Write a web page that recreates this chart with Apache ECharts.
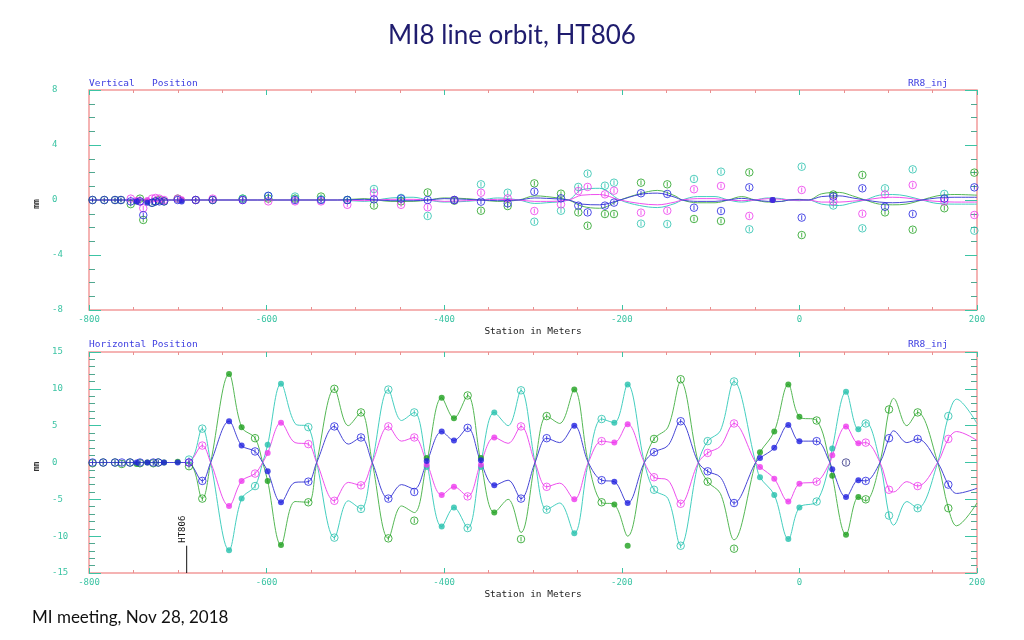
<!DOCTYPE html>
<html><head><meta charset="utf-8">
<script src="https://cdn.jsdelivr.net/npm/echarts@6/dist/echarts.min.js"></script>
<style>html,body{margin:0;padding:0;background:#fff}#c{width:1024px;height:640px}</style>
</head><body><div id="c"></div>
<script>
// ---------- DATA ----------
const xTicks = [-800, -600, -400, -200, 0, 200];
const markerName = 'HT806';
const markerPos = -690;
const markerTop = -11.3;

// Vertical panel: BPM stations and readings (mm)
const topX = [-796,-782.8,-770.7,-764,-753,-746.3,-742.6,-738.9,-734.3,-729,-725,-720.8,-715.5,-700.1,-695.6,-679.8,-660.7,-626.9,-598.1,-568,-538.7,-509.1,-479.1,-448.6,-418.6,-388.6,-358.6,-328.5,-298.5,-268.5,-249,-238.5,-219,-208.8,-178.4,-148.8,-118.7,-88.3,-56.4,-30.1,2.6,38.2,70.9,96.4,127.6,163.2,197];
const topGreen = [0,0,0,0,-0.3,-0.1,0.1,-1.45,-0.1,-0.2,-0.1,0,-0.1,0.1,0,0,0,0.1,0.1,0.1,0.25,0,-0.4,-0.1,0.55,-0.05,-0.78,-0.44,1.21,0.46,-0.9,-1.87,-1.02,-1.02,1.26,1.14,-1.38,-1.53,2.01,0,-2.55,0.4,1.82,-0.9,-2.16,-0.6,1.99];
const topBlue = [0,0,0,0,-0.1,-0.1,-0.1,-1.1,-0.2,-0.2,-0.1,-0.1,-0.1,0,-0.1,0,0,0,0.3,0,0,0,0.05,0.1,0,0,-0.12,-0.24,0.61,0.12,-0.41,-0.9,-0.41,-0.19,0.49,0.44,-0.56,-0.8,0.92,0,-1.28,0.25,0.85,-0.49,-1.02,0.1,0.92];
const topMagenta = [null,null,null,null,0.1,0,-0.1,-0.6,0,0.1,0.15,0.1,0,0.1,0.05,0,0.1,0,-0.1,-0.1,-0.1,-0.35,0.5,-0.35,-0.53,0,0.53,0.12,-0.8,-0.32,0.65,0.95,0.41,0.68,-0.92,-0.78,0.78,1.02,-1.16,0,0.73,-0.1,-1.0,0.41,1.09,-0.1,-1.09];
const topCyan = [null,null,null,null,null,null,null,null,null,null,null,null,null,null,null,null,null,0.1,0.3,0.25,0.05,0,0.8,0.15,-1.16,0,1.14,0.53,-1.58,-0.78,0.95,1.92,1.04,1.26,-1.72,-1.75,1.53,2.06,-2.13,0,2.42,-0.4,-2.06,0.85,2.23,0.44,-2.23];
const topFilled = [0,0,0,0,0,1,0,0,1,0,0,0,0,0,1,0,0,0,0,0,0,0,0,0,0,0,0,0,0,0,0,0,0,0,0,0,0,0,0,1,0,0,0,0,0,0,0];

// Vertical panel: model orbit curves
const topLineX = [-800,-700,-520,-490,-460,-435,-418,-400,-375,-358,-340,-316,-298,-285,-260,-245,-225,-202,-180,-160,-140,-132,-115,-95,-80,-65,-50,-35,-20,-12,0,10,25,45,60,74,90,105,120,138,155,175,200];
const topLineGreen = [0,0,0,0.1,-0.1,-0.1,0,0.15,0.1,0,-0.1,0,0.3,0.25,0,-0.45,-0.6,0,0.45,0.7,0.3,0,-0.2,-0.2,0,0.25,0,-0.15,-0.1,0,0.05,0,0.45,0.55,0.3,0,-0.3,-0.35,-0.3,0,0.3,0.4,0.35];
const topLineBlue = [0,0,0,0.05,-0.05,-0.05,0,0.1,0.05,0,-0.05,0,0.15,0.12,0,-0.3,-0.35,0,0.4,0.5,0.2,0,-0.1,-0.1,0,0.12,0,-0.1,-0.1,0,0.02,0,0.25,0.3,0.15,0,-0.15,-0.2,-0.15,0,0.15,0.2,0.2];
const topLineMagenta = [0,0,0,-0.05,0.05,0.05,0,-0.1,-0.05,0,0.05,0,-0.1,-0.1,0,0.35,0.4,0,-0.25,-0.35,-0.15,0,0.1,0.1,0,-0.05,0,0.1,0.05,0,-0.02,0,-0.15,-0.15,-0.08,0,0.15,0.2,0.15,0,-0.1,-0.15,-0.15];
const topLineCyan = [0,0,0,-0.1,0.15,0.2,0,-0.15,-0.1,0,0.15,0,-0.25,-0.2,0,0.75,0.85,0,-0.4,-0.55,-0.25,0,0.25,0.25,0,-0.15,0,0.15,0.1,0,-0.05,0,-0.3,-0.4,-0.2,0,0.35,0.4,0.3,0,-0.25,-0.3,-0.3];

// Horizontal panel: BPM stations and readings (mm)
const botX = [-796,-784,-770.7,-763,-753.8,-746.3,-742.6,-734.3,-727.6,-722,-715.5,-700.1,-687.4,-672.4,-642.3,-628.1,-613,-598.8,-583.8,-553,-523.7,-493.7,-462.9,-433.7,-419.7,-402.8,-389,-373.6,-358.6,-343.6,-313.5,-284.6,-253.5,-222.7,-208.4,-193.4,-163.7,-133.7,-103.3,-73.6,-44.4,-28.3,-12.5,0,19.4,37,52.5,66.4,74.7,100.9,133.2,167.7];
const botGreen = [-0.1,0,0,-0.2,0,-0.2,-0.1,0,-0.1,0,0,0.1,-0.5,-4.9,12.0,4.8,3.3,-2.5,-11.2,-5.4,10.0,6.8,-10.3,-7.9,0.6,8.8,6.0,9.1,0.6,-6.8,-10.4,6.3,9.9,-5.4,-5.7,-11.3,3.2,11.3,-2.6,-11.7,1.4,4.2,10.6,6.2,5.7,-1.8,-9.8,-4.7,-5.0,7.2,6.8,-6.2];
const botBlue = [0,0,0,0,0,0,0,0,0,0,0,0,0,-2.5,5.6,2.3,1.5,-1.2,-5.4,-2.6,4.9,3.4,-4.9,-4.0,0.2,4.2,3.0,4.7,0.3,-3.1,-4.9,3.3,5.0,-2.4,-2.6,-5.5,1.4,5.6,-1.2,-5.5,0.6,2.0,5.1,2.9,2.9,-0.9,-4.7,-2.4,-2.5,3.3,3.2,-3.0];
const botMagenta = [null,null,null,null,null,null,null,null,null,null,null,null,0,2.3,-5.9,-2.5,-1.5,1.3,5.4,2.5,-5.2,-3.1,4.9,3.4,-0.3,-4.4,-3.3,-4.6,-0.3,3.4,4.9,-3.3,-5.0,2.9,2.7,5.2,-2.0,-5.6,1.3,5.3,-0.6,-2.2,-5.3,-2.9,-2.6,1.0,4.9,2.6,2.7,-3.7,-3.2,3.2];
const botCyan = [null,null,null,null,null,null,null,null,null,null,null,null,0.4,4.6,-11.9,-4.9,-3.2,2.4,10.7,4.8,-10.2,-6.3,9.9,6.8,-0.6,-8.7,-6.1,-8.9,-0.6,6.8,9.8,-6.4,-9.6,5.9,5.4,10.6,-3.7,-11.3,2.9,11.0,-2.0,-4.4,-10.4,-6.1,-5.3,1.9,9.6,4.5,5.3,-7.2,-6.2,6.3];
const botFilled = [0,0,0,0,0,1,0,1,0,0,1,1,0,0,1,1,0,1,1,0,0,0,0,0,1,1,1,0,1,1,0,0,1,0,1,1,0,0,0,0,1,1,1,1,0,1,1,1,0,0,0,0];
const botRefX = [52.5];
const botRefY = [0];

// Horizontal panel: model orbit curves
const botLineX = [-800,-690,-672.4,-663,-642.3,-628.1,-613,-604.4,-598.8,-583.8,-568,-553,-543.6,-523.7,-508,-493.7,-481,-462.9,-448,-433.7,-419.7,-402.8,-389,-373.6,-358.6,-343.6,-328,-313.5,-297.7,-284.6,-270,-253.5,-237.7,-222.7,-208.4,-193.4,-174.6,-163.7,-148,-133.7,-113.8,-103.3,-89,-73.6,-49.3,-44.4,-28.3,-12.5,0,19.4,34.4,37,52.5,66.4,74.7,90.8,100.9,106,121,133.2,155.7,167.7,177,200];
const botLineGreen = [0,0,-4.9,0,12.0,4.8,3.3,0,-2.5,-11.2,-5.3,-5.4,0,10.0,5.0,6.8,0,-10.3,-5.9,-6.8,0,8.8,6.0,9.1,0,-6.8,-5.0,-9.5,0,6.3,5.3,9.9,0,-5.4,-5.7,-10.0,0,3.2,4.8,11.0,0,-2.6,-4.2,-10.5,0,1.4,4.2,10.6,6.2,5.7,0,-1.8,-9.8,-4.7,-5.2,0,7.2,8.7,5.0,6.8,0,-6.2,-8.6,-5.5];
const botLineBlue = [0,0,-2.5,0,5.6,2.3,1.5,0,-1.2,-5.4,-2.7,-2.6,0,4.9,2.5,3.4,0,-4.9,-3.0,-3.6,0,4.2,3.0,4.7,0,-3.1,-2.4,-4.9,0,3.3,2.7,5.0,0,-2.4,-2.6,-5.5,0,1.4,2.3,5.6,0,-1.2,-2.0,-5.5,0,0.6,2.0,5.1,2.9,2.9,0,-0.9,-4.7,-2.4,-2.5,0,3.3,4.3,2.7,3.2,0,-3.0,-4.2,-3.5];
const botLineMagenta = [0,0,2.3,0,-5.9,-2.5,-1.5,0,1.3,5.4,2.7,2.5,0,-5.2,-2.7,-3.1,0,4.9,2.9,3.4,0,-4.4,-3.3,-4.6,0,3.4,2.6,4.9,0,-3.3,-2.8,-5.0,0,2.9,2.7,5.2,0,-2.0,-2.4,-5.6,0,1.3,2.2,5.3,0,-0.6,-2.2,-5.3,-2.9,-2.6,0,1.0,4.9,2.6,2.7,0,-3.7,-4.0,-2.6,-3.2,0,3.2,4.2,3.0];
const botLineCyan = [0,0,4.6,0,-11.9,-4.9,-3.2,0,2.4,10.7,5.3,4.8,0,-10.2,-5.2,-6.3,0,9.9,5.7,6.8,0,-8.7,-6.1,-8.9,0,6.8,5.0,9.8,0,-6.4,-5.5,-9.6,0,5.9,5.4,10.6,0,-3.7,-4.9,-11.3,0,2.9,4.3,11.0,0,-2.0,-4.4,-10.4,-6.1,-5.3,0,1.9,9.6,4.5,5.5,0,-7.2,-8.5,-5.3,-6.2,0,6.3,8.6,5.3];

// ---------- STYLE ----------
const C = {
  green: {line:'#55b855', mark:'#1ea01e'},
  cyan: {line:'#45cfc0', mark:'#25c0ac'},
  magenta: {line:'#ee50ee', mark:'#ee38ee'},
  blue: {line:'#4646d6', mark:'#2020e0'}
};
const teal = '#3cc4a4';
const mono = 'DejaVu Sans Mono';
const openPath = 'path://M50,2A48,48 0 1,1 49.9,2Z M50,20L50,80';

const chart = echarts.init(document.getElementById('c'), null, {renderer:'canvas'});

function lineS(xs, ys, color, g) {
  return {type:'line', xAxisIndex:g*2, yAxisIndex:g*2, data: xs.map((x,i)=>[x, ys[i]]),
    showSymbol:false, symbol:'none', smooth:0.35, lineStyle:{color, width:1}, silent:true, z:2};
}
function markS(xs, ys, filled, color, g) {
  const d = [];
  xs.forEach((x,i)=>{
    if (ys[i] === null || ys[i] === undefined) return;
    const f = filled[i];
    d.push({value:[x, ys[i]], symbol: f ? 'circle' : openPath, symbolSize: f ? 6 : 7.5,
      itemStyle: f ? {color} : {color:'rgba(0,0,0,0)', borderColor:color, borderWidth:1}});
  });
  return {type:'scatter', xAxisIndex:g*2, yAxisIndex:g*2, data:d, silent:true, z:3};
}

function xAxes(g) {
  const base = {type:'value', gridIndex:g, min:-800, max:200, interval:200,
    axisLine:{show:false, onZero:false}, splitLine:{show:false},
    axisTick:{show:true, inside:true, length:5, lineStyle:{color:teal}},
    minorTick:{show:true, splitNumber:4, length:3, lineStyle:{color:'#e89090'}}};
  return [
    Object.assign({}, base, {position:'bottom',
      axisLabel:{color:teal, fontFamily:mono, fontSize:9, margin:5},
      name:'Station in Meters', nameLocation:'middle', nameGap:17,
      nameTextStyle:{color:'#222', fontFamily:mono, fontSize:9.5}}),
    Object.assign({}, base, {position:'top', axisLabel:{show:false}})
  ];
}
function yAxes(g, lim, step) {
  const base = {type:'value', gridIndex:g, min:-lim, max:lim, interval:step,
    axisLine:{show:false, onZero:false}, splitLine:{show:false},
    axisTick:{show:true, inside:true, length:12, lineStyle:{color:teal}},
    minorTick:{show:true, splitNumber: step, length:6, lineStyle:{color:'#50a890'}}};
  return [
    Object.assign({}, base, {position:'left',
      axisLabel:{color:teal, fontFamily:mono, fontSize:9, margin:37, align:'left'},
      name:'mm', nameLocation:'middle', nameGap:44, nameRotate:90,
      nameTextStyle:{color:'#333', fontFamily:mono, fontSize:8, fontWeight:'bold', padding:[0,0,0,-8]}}),
    Object.assign({}, base, {position:'right', axisLabel:{show:false}})
  ];
}

const gridStyle = {show:true, borderColor:'#f29a9a', borderWidth:1.5, backgroundColor:'rgba(0,0,0,0)', containLabel:false};

const option = {
  animation:false,
  backgroundColor:'#ffffff',
  title:[
    {text:'MI8 line orbit, HT806', left:'center', top:18, textStyle:{fontFamily:'Lato', fontSize:26, fontWeight:'normal', color:'#1f1c6e'}},
    {text:'MI meeting, Nov 28, 2018', left:27, top:604, textStyle:{fontFamily:'Lato', fontSize:17, fontWeight:'normal', color:'#111'}},
    {text:'Vertical   Position', left:84, top:74, textStyle:{fontFamily:mono, fontSize:9.5, fontWeight:'normal', color:'#3c3ce0'}},
    {text:'RR8_inj', left:903, top:74, textStyle:{fontFamily:mono, fontSize:9.5, fontWeight:'normal', color:'#3c3ce0'}},
    {text:'Horizontal Position', left:84, top:335, textStyle:{fontFamily:mono, fontSize:9.5, fontWeight:'normal', color:'#3c3ce0'}},
    {text:'RR8_inj', left:903, top:335, textStyle:{fontFamily:mono, fontSize:9.5, fontWeight:'normal', color:'#3c3ce0'}}
  ],
  grid:[
    Object.assign({left:89, top:90, width:888, height:220}, gridStyle),
    Object.assign({left:89, top:352, width:888, height:221}, gridStyle)
  ],
  xAxis: [...xAxes(0), ...xAxes(1)],
  yAxis: [...yAxes(0, 8, 4), ...yAxes(1, 15, 5)],
  series: [
    lineS(topLineX, topLineGreen, C.green.line, 0),
    lineS(topLineX, topLineCyan, C.cyan.line, 0),
    lineS(topLineX, topLineMagenta, C.magenta.line, 0),
    lineS(topLineX, topLineBlue, C.blue.line, 0),
    markS(topX, topGreen, topFilled, C.green.mark, 0),
    markS(topX, topCyan, topFilled, C.cyan.mark, 0),
    markS(topX, topMagenta, topFilled, C.magenta.mark, 0),
    markS(topX, topBlue, topFilled, C.blue.mark, 0),
    lineS(botLineX, botLineGreen, C.green.line, 1),
    lineS(botLineX, botLineCyan, C.cyan.line, 1),
    lineS(botLineX, botLineMagenta, C.magenta.line, 1),
    lineS(botLineX, botLineBlue, C.blue.line, 1),
    markS(botX, botGreen, botFilled, C.green.mark, 1),
    markS(botX, botCyan, botFilled, C.cyan.mark, 1),
    markS(botX, botMagenta, botFilled, C.magenta.mark, 1),
    markS(botX, botBlue, botFilled, C.blue.mark, 1),
    markS(botRefX, botRefY, [0], '#2a2a80', 1)
  ]
};
chart.setOption(option);

// HT806 marker drawn through the axis scale
const p0 = chart.convertToPixel({xAxisIndex:2, yAxisIndex:2}, [markerPos, -15]);
const p1 = chart.convertToPixel({xAxisIndex:2, yAxisIndex:2}, [markerPos, markerTop]);
chart.setOption({graphic:[
  {type:'line', shape:{x1:p0[0], y1:p0[1], x2:p1[0], y2:p1[1]}, style:{stroke:'#111', lineWidth:1}, z:10},
  {type:'text', x:p1[0]-4, y:p1[1]-3, rotation:Math.PI/2,
   style:{text:markerName, fill:'#111', font:'9px "DejaVu Sans Mono"', align:'left', verticalAlign:'middle'}, z:10}
]});
</script>
</body></html>
